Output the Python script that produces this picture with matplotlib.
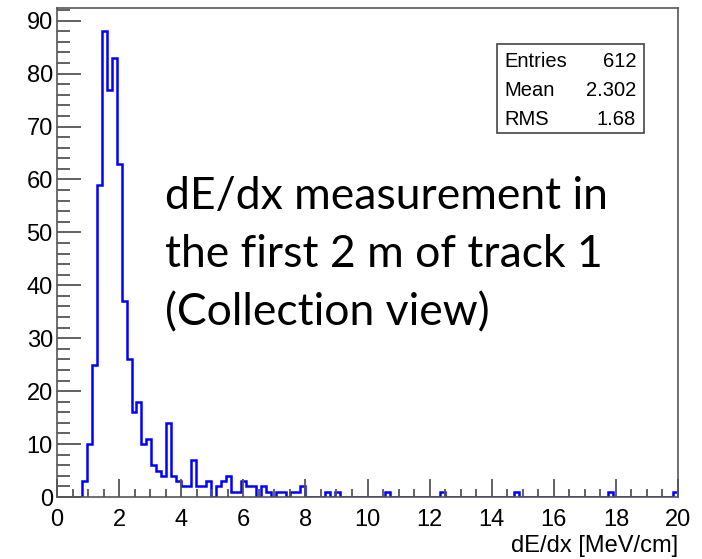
import numpy as np
import matplotlib
matplotlib.use("Agg")
import matplotlib.pyplot as plt
from matplotlib.patches import Rectangle
from matplotlib.ticker import MultipleLocator

# dE/dx histogram: 125 bins from 0 to 20 MeV/cm
x_min, x_max, n_bins = 0.0, 20.0, 125
counts = [
    0, 0, 0, 0, 0,
    3, 10, 25, 59, 88, 77, 83, 63, 37, 26, 16, 18, 10, 11, 6, 5, 4,
    14, 4, 3, 2, 2, 7, 2, 2, 3, 0, 2, 3, 4,
    1, 1, 3, 2, 2, 0, 2, 1, 0, 1, 1, 0, 1, 1, 2,
    0, 0, 0, 0, 1, 0, 1,
    0, 0, 0, 0, 0, 0, 0, 0, 0, 1,
    0, 0, 0, 0, 0, 0, 0, 0, 0, 0, 1,
    0, 0, 0, 0, 0, 0, 0, 0, 0, 0, 0, 0, 0, 0, 1,
    0, 0, 0, 0, 0, 0, 0, 0, 0, 0, 0, 0, 0, 0, 0, 0, 0, 0, 1,
    0, 0, 0, 0, 0, 0, 0, 0, 0, 0, 0, 0, 1,
]
stat_names = ["Entries", "Mean", "RMS"]
stat_values = ["612", "2.302", "1.68"]
x_label = "dE/dx [MeV/cm]"
note_lines = ["dE/dx measurement in", "the first 2 m of track 1", "(Collection view)"]

edges = np.linspace(x_min, x_max, n_bins + 1)
counts = np.asarray(counts, dtype=float)

W, H = 702, 559
fig = plt.figure(figsize=(W / 100, H / 100), dpi=100)
fig.patch.set_facecolor("white")

root_font = ["Liberation Sans", "DejaVu Sans"]
axis_col = "#555555"

ax = fig.add_axes([57 / W, 1 - 497 / H, (678 - 57) / W, (497 - 8) / H])
ax.stairs(counts, edges, color="#0000ff", linewidth=1.8, baseline=0)
ax.set_xlim(x_min, x_max)
ax.set_ylim(0, counts.max() * 1.05)

ax.xaxis.set_major_locator(MultipleLocator(2))
ax.xaxis.set_minor_locator(MultipleLocator(0.5))
ax.yaxis.set_major_locator(MultipleLocator(10))
ax.yaxis.set_minor_locator(MultipleLocator(2))
ax.tick_params(axis="both", which="both", direction="in", colors=axis_col,
               labelcolor="black", top=False, right=False)
ax.tick_params(axis="x", which="major", length=13, width=1.3, pad=9)
ax.tick_params(axis="x", which="minor", length=6, width=1.3)
ax.tick_params(axis="y", which="major", length=17, width=1.3, pad=3)
ax.tick_params(axis="y", which="minor", length=9, width=1.3)
for lab in ax.get_xticklabels() + ax.get_yticklabels():
    lab.set_family(root_font)
    lab.set_fontsize(17)
for sp in ax.spines.values():
    sp.set_color(axis_col)
    sp.set_linewidth(1.2)

fig.text(678 / W, 1 - 552 / H, x_label, ha="right", va="baseline",
         family=root_font, fontsize=17)

# statistics box
fig.patches.append(Rectangle((497 / W, 1 - 133 / H), (644 - 497) / W, (133 - 44) / H,
                             transform=fig.transFigure, facecolor="white",
                             edgecolor="#444444", linewidth=1.2))
for i, (name, val) in enumerate(zip(stat_names, stat_values)):
    yb = 1 - (67 + 29 * i) / H
    fig.text(504 / W, yb, name, ha="left", va="baseline", family=root_font, fontsize=14.5)
    fig.text(636 / W, yb, val, ha="right", va="baseline", family=root_font, fontsize=14.5)

# overlay note
for i, line in enumerate(note_lines):
    fig.text(165 / W, 1 - (209 + 58 * i) / H, line, ha="left", va="baseline",
             family=["Lato", "DejaVu Sans"], fontsize=32, color="black")

fig.savefig("out.png", dpi=100, facecolor="white")
